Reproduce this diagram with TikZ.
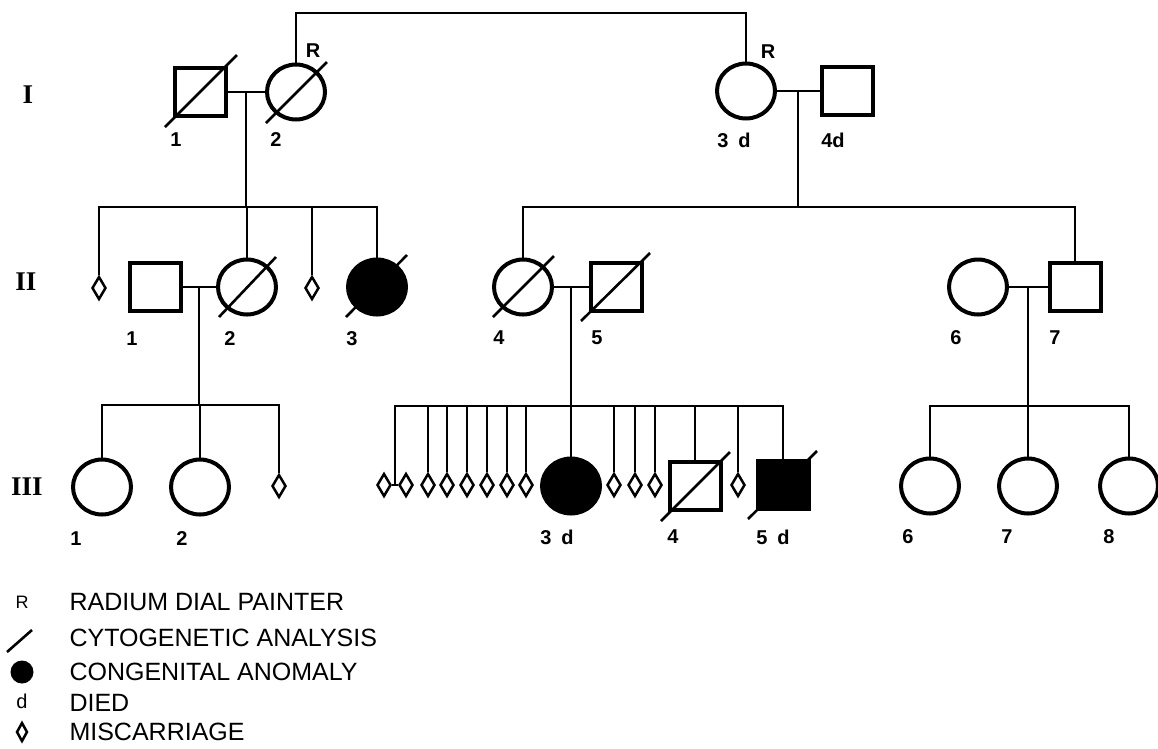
\documentclass[tikz,border=0pt]{standalone}
\usepackage{fontspec}
\setmainfont{Liberation Sans}
\newfontfamily\romano{Liberation Serif}
\usepackage{tikz}
\usetikzlibrary{shapes.geometric}

\tikzset{
    homem/.style={draw, line width=4pt, minimum width=51pt, minimum height=48pt, inner sep=0pt},
    mulher/.style={ellipse, draw, line width=4pt, minimum width=58pt, minimum height=55pt, inner sep=0pt},
    aborto/.style={diamond, draw, line width=2.5pt, minimum width=14pt, minimum height=23pt, inner sep=0pt},
    afetado/.style={fill=black},
    liga/.style={line width=2pt},
    corte/.style={line width=2.6pt},
    num/.style={font=\fontsize{20}{24}\selectfont\bfseries},
    geracao/.style={font=\fontsize{27}{30}\romano\bfseries},
    legenda/.style={anchor=west, font=\fontsize{25}{30}\selectfont}
}

\begin{document}
\begin{tikzpicture}[x=1pt, y=-1pt]
    \useasboundingbox (0,0) rectangle (1158,748);
    % Geracoes
    \node[geracao] (gI) at (28,95) {I};
    \node[geracao] (gII) at (26,282) {II};
    \node[geracao] (gIII) at (27,487) {III};
    % Geracao I
    \node[homem] (I1) at (200,92) {};
    \node[mulher] (I2) at (296,92) {};
    \node[mulher] (I3) at (746,91) {};
    \node[homem] (I4) at (847,91) {};
    \draw[corte] (I1.center) ++(-35,35) -- ++(72,-72);
    \draw[corte] (I2.center) ++(-30,31) -- ++(61,-61);
    \coordinate (topo) at (520,13);
    \draw[liga] (I2.north) |- (topo) -| (I3.north);
    \draw[liga] (I1.east) -- coordinate (mI12) (I2.west);
    \draw[liga] (mI12) -- ++(0,115) coordinate (fII1);
    \draw[liga] (I3.east) -- coordinate (mI34) (I4.west);
    \draw[liga] (mI34) -- ++(0,116) coordinate (fII2);
    % Geracao II
    \node[aborto] (IIa1) at (99,288) {};
    \node[homem] (II1) at (155,287) {};
    \node[mulher] (II2) at (247,287) {};
    \node[aborto] (IIa2) at (312,288) {};
    \node[mulher, afetado] (II3) at (377,287) {};
    \draw[liga] (IIa1.north) |- (fII1) -| (II3.north);
    \draw[liga] (II2.north) -- (II2.north |- fII1);
    \draw[liga] (IIa2.north) -- (IIa2.north |- fII1);
    \draw[corte] (II2.center) ++(-28,30) -- ++(57,-60);
    \draw[corte] (II3.center) ++(-31,30) -- ++(61,-62);
    \draw[liga] (II1.east) -- coordinate (mII12) (II2.west);
    \draw[liga] (mII12) -- ++(0,118) coordinate (fIII1);
    \node[mulher] (II4) at (523,287) {};
    \node[homem] (II5) at (616,287) {};
    \node[mulher] (II6) at (978,287) {};
    \node[homem] (II7) at (1075,287) {};
    \draw[liga] (II4.north) |- (fII2) -| (II7.north);
    \draw[corte] (II4.center) ++(-30,30) -- ++(61,-61);
    \draw[corte] (II5.center) ++(-35,34) -- ++(69,-68);
    \draw[liga] (II4.east) -- coordinate (mII45) (II5.west);
    \draw[liga] (mII45) -- ++(0,119) coordinate (fIII2);
    \draw[liga] (II6.east) -- coordinate (mII67) (II7.west);
    \draw[liga] (mII67) -- ++(0,119) coordinate (fIII3);
    % Geracao III
    \node[mulher] (III1) at (102,487) {};
    \node[mulher] (III2) at (200,487) {};
    \node[aborto] (IIIa0) at (279,486) {};
    \draw[liga] (III1.north) |- (fIII1) -| (IIIa0.north);
    \draw[liga] (III2.north) -- (III2.north |- fIII1);
    \node[aborto] (gem1) at (384,485) {};
    \node[aborto] (gem2) at (406,485) {};
    \draw[liga] (gem1.east) -- coordinate (gemeos) (gem2.west);
    \node[mulher, afetado] (III3) at (571,486) {};
    \node[homem] (III4) at (695,486) {};
    \node[homem, afetado] (III5) at (783,485) {};
    \foreach \x [count=\i] in {428,447,467,487,507,526,614,635,655,738}
        \node[aborto] (IIIa\i) at (\x,485) {};
    \draw[liga] (gemeos) |- (fIII2) -| (III5.north);
    \draw[liga] (III3.north) -- (III3.north |- fIII2);
    \draw[liga] (III4.north) -- (III4.north |- fIII2);
    \foreach \i in {1,...,10}
        \draw[liga] (IIIa\i.north) -- (IIIa\i.north |- fIII2);
    \draw[corte] (III4.center) ++(-34,35) -- ++(69,-69);
    \draw[corte] (III5.center) ++(-35,34) -- ++(69,-68);
    \node[mulher] (III6) at (930,486) {};
    \node[mulher] (III7) at (1028,486) {};
    \node[mulher] (III8) at (1129,486) {};
    \draw[liga] (III6.north) |- (fIII3) -| (III8.north);
    \draw[liga] (III7.north) -- (III7.north |- fIII3);
    % Numeros
    \node[num] (R2) at (313,51) {R};
    \node[num] (R3) at (768,52) {R};
    \foreach \x/\y/\t [count=\i] in {176/140/1, 276/140/2, 734/140/3\enspace d, 833/140/4d,
        132/339/1, 230/339/2, 352/339/3, 499/338/4, 597/338/5, 956/338/6, 1055/338/7,
        76/539/1, 182/539/2, 557/537/3\enspace d, 673/537/4, 773/537/5\enspace d,
        908/537/6, 1007/537/7, 1109/537/8}
        \node[num] (n\i) at (\x,\y) {\t};
    % Legenda
    \node[font=\fontsize{18}{20}\selectfont] (lR) at (22,602) {R};
    \draw[corte] (7,652) -- (32,630);
    \node[circle, fill, minimum size=23pt, inner sep=0pt] (lc) at (22,672) {};
    \node[font=\fontsize{20}{22}\selectfont] (ld) at (22,701) {d};
    \node[aborto, minimum width=11pt, minimum height=19pt] (la) at (22,732) {};
    \foreach \y/\t [count=\i] in {602/RADIUM DIAL PAINTER, 638/CYTOGENETIC ANALYSIS,
        672/CONGENITAL ANOMALY, 703/DIED, 732/MISCARRIAGE}
        \node[legenda] (leg\i) at (66,\y) {\t};
\end{tikzpicture}
\end{document}
